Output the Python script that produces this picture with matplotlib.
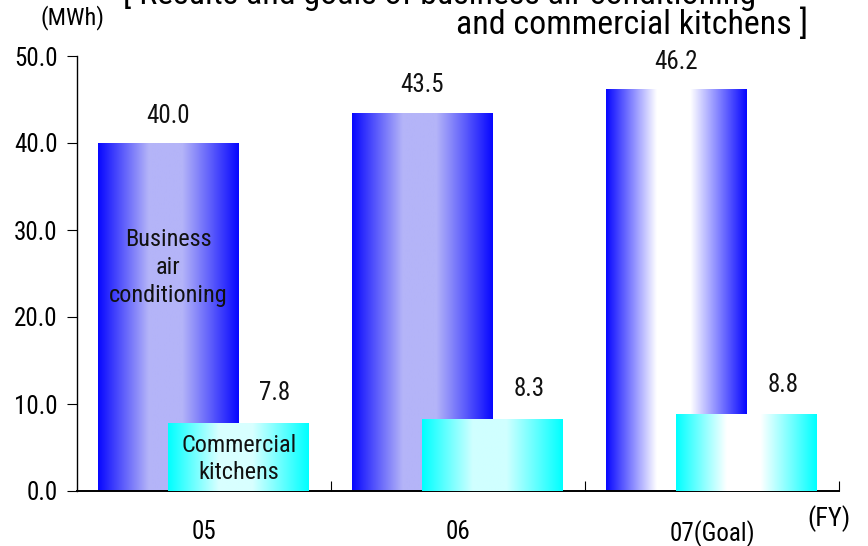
import matplotlib
matplotlib.use("Agg")
import matplotlib.pyplot as plt
import numpy as np
from matplotlib.colors import to_rgb

categories = ["05", "06", "07(Goal)"]
business_air = [40.0, 43.5, 46.2]
commercial_kitchens = [7.8, 8.3, 8.8]
y_ticks = [0.0, 10.0, 20.0, 30.0, 40.0, 50.0]

FONT = ["Roboto Condensed", "Archivo Narrow", "Liberation Sans", "DejaVu Sans"]
plt.rcParams["font.family"] = FONT

fig = plt.figure(figsize=(8.68, 5.46), dpi=100)
ax = fig.add_axes([77/868, 1-491/546, (839-77)/868, (491-56)/546])
ax.set_xlim(0, 3)
ax.set_ylim(0, 50)

x = np.arange(len(categories)) + 0.5
width = 0.555
off_b = -0.14
off_k = 0.137

blue_edge = to_rgb("#0808ff")
cyan_edge = to_rgb("#00ffff")
blue_centers = ["#b4b4f8", "#b4b4f8", "#ffffff"]
cyan_centers = ["#d8ffff", "#d0ffff", "#ffffff"]

def profile(n=200):
    t = np.linspace(0, 1, n)
    f = np.where(t < 0.36, t/0.36, np.where(t < 0.6, 1.0, (1-t)/0.4))
    return np.clip(f, 0, 1)

def gradient_bar(rect, edge, center):
    c = np.array(to_rgb(center)); e = np.array(edge)
    f = profile()[:, None]
    row = e + (c - e) * f
    img = row[None, :, :]
    x0 = rect.get_x(); w = rect.get_width(); h = rect.get_height()
    im = ax.imshow(img, extent=[x0, x0 + w, 0, h], aspect="auto",
                   interpolation="bilinear", zorder=rect.get_zorder(), origin="lower")
    im.set_clip_path(rect)

bars_b = ax.bar(x + off_b, business_air, width, color="none", edgecolor="none", zorder=2)
for r, cc in zip(bars_b, blue_centers):
    gradient_bar(r, blue_edge, cc)
bars_k = ax.bar(x + off_k, commercial_kitchens, width, color="none", edgecolor="none", zorder=3)
for r, cc in zip(bars_k, cyan_centers):
    gradient_bar(r, cyan_edge, cc)

ax.set_xlim(0, 3)
ax.set_ylim(0, 50)

fs = 18
for xi, v in zip(x + off_b, business_air):
    ax.annotate(f"{v:.1f}", (xi, v), xytext=(0, 19.5), textcoords="offset points",
                ha="center", va="center", fontsize=fs, color="#111111")
for xi, v in zip(x + off_k, commercial_kitchens):
    ax.annotate(f"{v:.1f}", (xi, v), xytext=(26, 21.5), textcoords="offset points",
                ha="center", va="center", fontsize=fs, color="#111111")

ax.text(x[0] + off_b, 25.7, "Business\nair\nconditioning", ha="center", va="center",
        fontsize=17.5, color="#111111", linespacing=1.3, zorder=5)
ax.text(x[0] + off_k, 3.7, "Commercial\nkitchens", ha="center", va="center",
        fontsize=17.5, color="#111111", linespacing=1.25, zorder=5)

for s in ["top", "right"]:
    ax.spines[s].set_visible(False)
ax.spines["left"].set_linewidth(1.0)
ax.spines["bottom"].set_linewidth(1.4)

ax.set_yticks(y_ticks)
ax.set_yticklabels([f"{t:.1f}" for t in y_ticks], fontsize=fs)
ax.tick_params(axis="y", direction="out", length=7, pad=7)

ax.set_xticks([1, 2, 3])
ax.set_xticklabels([])
ax.tick_params(axis="x", which="major", direction="in", length=7)
ax.set_xticks(x, minor=True)
ax.set_xticklabels(categories, minor=True, fontsize=fs)
ax.tick_params(axis="x", which="minor", length=0, pad=21)

fig.text(73/868, 1-18/546, "(MWh)", ha="center", va="center", fontsize=17.5)
fig.text(829/868, 1-519/546, "(FY)", ha="center", va="center", fontsize=19)
fig.text(440/868, 1-(-6)/546, "[ Results and goals of business air conditioning",
         ha="center", va="center", fontsize=24.4)
fig.text(808/868, 1-25/546, "and commercial kitchens ]", ha="right", va="center", fontsize=24.4)

fig.savefig("out.png", dpi=100)
